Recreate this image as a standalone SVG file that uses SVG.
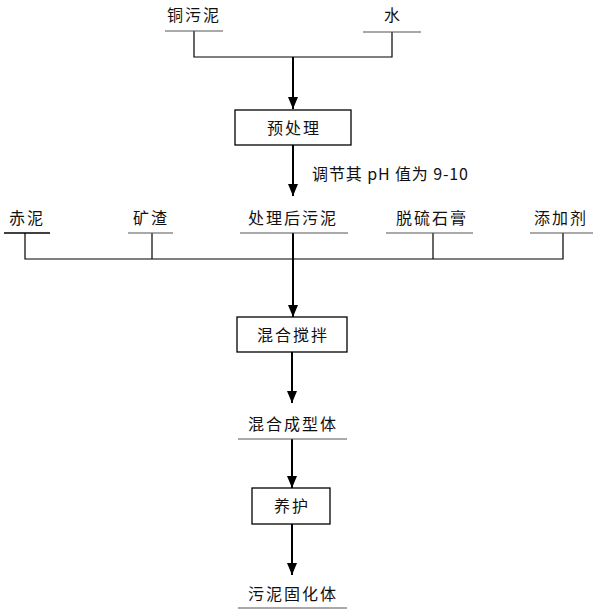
<svg xmlns="http://www.w3.org/2000/svg" width="599" height="614" viewBox="0 0 599 614">
<defs>
<marker id="ah" markerWidth="12" markerHeight="10" refX="12" refY="5" orient="auto" markerUnits="userSpaceOnUse" viewBox="0 0 12 10">
<path d="M0,0 L12,5 L0,10 Z" fill="#000"/>
</marker>
</defs>
<style>
text{font-family:"Noto Sans CJK SC","Noto Sans",sans-serif;font-size:16px;fill:#111;letter-spacing:2px}
.c{text-anchor:middle}
.ul{stroke:#555;stroke-width:1.2;fill:none}
.ln{stroke:#000;stroke-width:1.2;fill:none}
.ar{stroke:#000;stroke-width:2;fill:none;marker-end:url(#ah)}
.bx{fill:#fff;stroke:#000;stroke-width:1.3}
</style>
<rect width="599" height="614" fill="#fff"/>
<g id="connectors">
<polyline class="ln" points="194,31 194,57 392,57 392,32"/>
<line class="ar" x1="293" y1="57" x2="293" y2="109"/>
<line class="ar" x1="293" y1="145" x2="293" y2="196"/>
<polyline class="ln" points="25,233 25,259 563,259 563,233"/>
<line class="ln" x1="152" y1="233" x2="152" y2="259"/>
<line class="ln" x1="433" y1="233" x2="433" y2="259"/>
<line class="ar" x1="293" y1="233" x2="293" y2="317"/>
<line class="ar" x1="292" y1="352" x2="292" y2="403"/>
<line class="ar" x1="292" y1="439" x2="292" y2="488"/>
<line class="ar" x1="292" y1="524" x2="292" y2="575"/>
</g>
<g id="n-tongwuni"><text x="194" y="21" class="c">铜污泥</text><line class="ul" x1="165" y1="31" x2="223" y2="31"/></g>
<g id="n-shui"><text x="393" y="21" class="c">水</text><line class="ul" x1="363" y1="32" x2="421" y2="32"/></g>
<g id="n-yuchuli"><rect class="bx" x="235" y="110" width="116" height="35"/><text x="294" y="134" class="c">预处理</text></g>
<g id="l-ph"><text x="312" y="180" textLength="158" lengthAdjust="spacing">调节其 pH 值为 9-10</text></g>
<g id="n-chini"><text x="27" y="224" class="c">赤泥</text><line class="ul" x1="4" y1="233" x2="50" y2="233" style="stroke:#000;stroke-width:1.6"/></g>
<g id="n-kuangzha"><text x="151" y="224" class="c">矿渣</text><line class="ul" x1="128" y1="233" x2="173" y2="233"/></g>
<g id="n-chulihou"><text x="293" y="224" class="c">处理后污泥</text><line class="ul" x1="240" y1="233" x2="348" y2="233"/></g>
<g id="n-tuoliu"><text x="432" y="224" class="c">脱硫石膏</text><line class="ul" x1="386" y1="233" x2="473" y2="233"/></g>
<g id="n-tianjia"><text x="561" y="224" class="c">添加剂</text><line class="ul" x1="530" y1="233" x2="593" y2="233"/></g>
<g id="n-hunhe"><rect class="bx" x="237" y="317" width="110" height="35"/><text x="293" y="341" class="c">混合搅拌</text></g>
<g id="n-chengxing"><text x="293" y="430" class="c">混合成型体</text><line class="ul" x1="238" y1="439" x2="347" y2="439"/></g>
<g id="n-yanghu"><rect class="bx" x="252" y="488" width="78" height="36"/><text x="292" y="512" class="c">养护</text></g>
<g id="n-guhua"><text x="293" y="600" class="c">污泥固化体</text><line class="ul" x1="238" y1="608" x2="347" y2="608"/></g>
</svg>
